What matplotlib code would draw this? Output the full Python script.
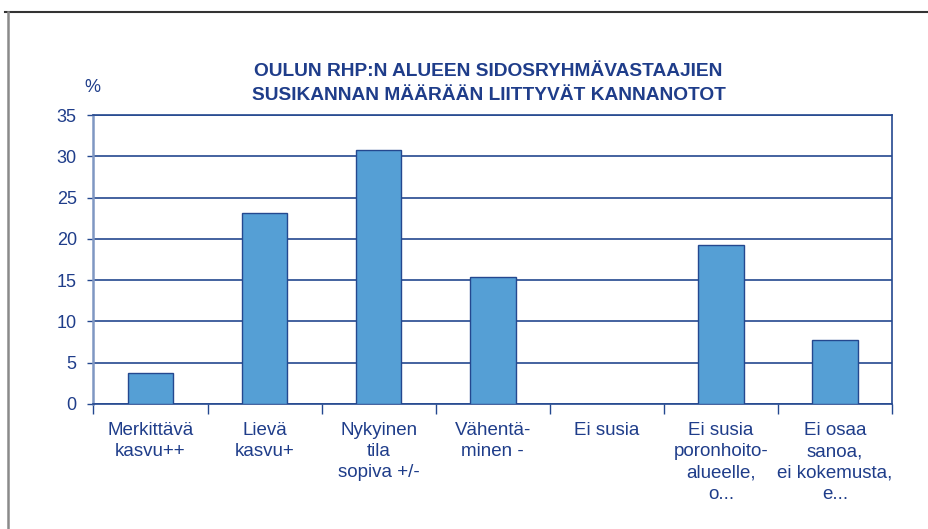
import numpy as np
import matplotlib.pyplot as plt
from matplotlib.lines import Line2D

categories = ["Merkittävä\nkasvu++", "Lievä\nkasvu+", "Nykyinen\ntila\nsopiva +/-",
              "Vähentä-\nminen -", "Ei susia", "Ei susia\nporonhoito-\nalueelle,\no...",
              "Ei osaa\nsanoa,\nei kokemusta,\ne..."]
values = [3.8, 23.1, 30.8, 15.4, 0.0, 19.2, 7.7]
yticks = [0, 5, 10, 15, 20, 25, 30, 35]
title = "OULUN RHP:N ALUEEN SIDOSRYHMÄVASTAAJIEN\nSUSIKANNAN MÄÄRÄÄN LIITTYVÄT KANNANOTOT"

text_col = '#1f3d8a'
line_col = '#24488f'
bar_col = '#559fd5'
fam = ['Liberation Sans', 'DejaVu Sans']

fig = plt.figure(figsize=(9.29, 5.29), dpi=100)
fig.patch.set_facecolor('white')
ax = fig.add_axes([0.1006, 0.2363, 0.8595, 0.5463])

x = np.arange(len(categories))
ax.bar(x, values, width=0.4, color=bar_col, edgecolor=line_col, linewidth=1.0, zorder=3)

ax.set_xlim(-0.5, len(categories) - 0.5)
ax.set_ylim(0, 35)
ax.set_yticks(yticks)
ax.yaxis.grid(True, color=line_col, linewidth=1.2, zorder=1)
ax.set_axisbelow(True)

ax.set_xticks(x)
ax.set_xticklabels(categories, fontsize=13.5, color=text_col, linespacing=1.32,
                   family=fam, va='top')
ax.set_xticks(np.arange(len(categories) + 1) - 0.5, minor=True)
ax.tick_params(axis='x', which='major', length=0, pad=13)
ax.tick_params(axis='x', which='minor', length=7, width=1, color=line_col, direction='out')
ax.tick_params(axis='y', length=4, width=1, color=line_col, pad=8, labelsize=13,
               labelcolor=text_col)
for lab in ax.get_yticklabels():
    lab.set_family(fam)

for side in ['top', 'right', 'bottom']:
    ax.spines[side].set_color(line_col)
    ax.spines[side].set_linewidth(1.2)
ax.spines['left'].set_color('#7f97c2')
ax.spines['left'].set_linewidth(1.8)

fig.text(0.526, 0.842, title, ha='center', va='center', fontsize=13.8, fontweight='bold',
         color=text_col, linespacing=1.5, family=fam)
fig.text(0.099, 0.834, "%", ha='center', va='center', fontsize=13, color=text_col,
         family=fam)

# outer frame
fig.add_artist(Line2D([0.005, 1.0], [1 - 12 / 529, 1 - 12 / 529], color='#333333', linewidth=1.5))
fig.add_artist(Line2D([8 / 929, 8 / 929], [0.0, 1 - 12 / 529], color='#8a8a8a', linewidth=1.8))

fig.savefig('out.png', dpi=100)
